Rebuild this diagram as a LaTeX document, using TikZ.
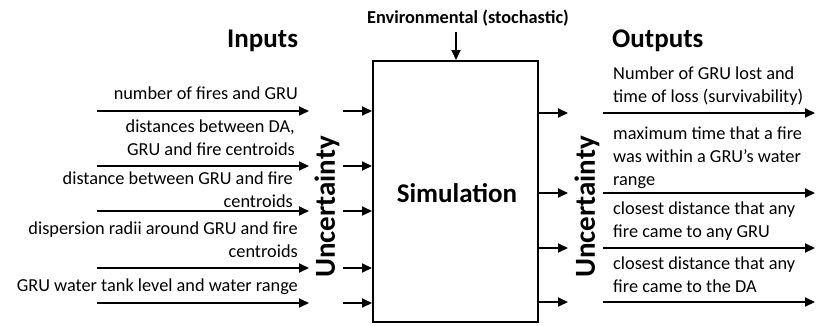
\documentclass[tikz,border=0pt]{standalone}
\usepackage{fontspec}
\setmainfont{Carlito}
\usetikzlibrary{arrows.meta}
\begin{document}
\begin{tikzpicture}[x=1pt,y=-1pt,
  arr/.style={line width=2pt,-{Triangle[length=10pt,width=9pt]}},
  lbl/.style={inner sep=0pt,font=\fontsize{18.3}{22.8}\selectfont},
  lblL/.style={lbl,align=right,anchor=base east},
  lblR/.style={lbl,align=left,anchor=base west},
  big/.style={inner sep=0pt,font=\fontsize{27}{32}\selectfont\bfseries},
  unc/.style={inner sep=0pt,rotate=90,font=\fontsize{29}{34}\selectfont\bfseries},
  simbox/.style={draw,line width=2pt,minimum width=165pt,minimum height=261pt,inner sep=0pt}]
\useasboundingbox (0,0) rectangle (817,325);
% central box
\node[simbox] (sim) at (455.5,191.5) {};
\node[big] (simtxt) at (457,193) {Simulation};
% titles
\node[big,anchor=base west] (inputs) at (227,47) {Inputs};
\node[big,anchor=base west] (outputs) at (612,47) {Outputs};
\node[inner sep=0pt,anchor=base,font=\fontsize{18.3}{22}\selectfont\bfseries] (env) at (468,23) {Environmental (stochastic)};
\coordinate (envA) at (456,32);
\draw[arr] (envA) -- (envA |- sim.north);
% uncertainty labels
\node[unc] (uncL) at (327,207) {Uncertainty};
\node[unc] (uncR) at (587,207) {Uncertainty};
% input arrows
\foreach \i/\y in {1/111,2/166,3/211,4/268,5/303} {
  \coordinate (inS\i) at (97,\y);
  \coordinate (inE\i) at (309,\y);
  \coordinate (inB\i) at (343,\y);
  \draw[arr] (inS\i) -- (inE\i);
  \draw[arr] (inB\i) -- (inB\i -| sim.west);
}
% output arrows
\foreach \i/\y in {1/113,2/193,3/248,4/302} {
  \coordinate (outB\i) at (sim.east |- 0,\y);
  \coordinate (outE\i) at (568,\y);
  \coordinate (outS\i) at (603,\y);
  \coordinate (outF\i) at (815,\y);
  \draw[arr] (outB\i) -- (outE\i);
  \draw[arr] (outS\i) -- (outF\i);
}
% input texts (anchor = baseline of last line)
\node[lblL] (t1) at (298,99) {number of fires and GRU};
\node[lblL] (t2) at (295,155) {distances between DA,\\GRU and fire centroids};
\node[lblL] (t3) at (293,207) {distance between GRU and fire\\centroids};
\node[lblL] (t4) at (298,257) {dispersion radii around GRU and fire\\centroids};
\node[lblL] (t5) at (298,291) {GRU water tank level and water range};
% output texts
\node[lblR] (o1) at (613,102) {Number of GRU lost and\\time of loss (survivability)};
\node[lblR] (o2) at (613,185) {maximum time that a fire\\was within a GRU’s water\\range};
\node[lblR] (o3) at (613,237) {closest distance that any\\fire came to any GRU};
\node[lblR] (o4) at (613,292) {closest distance that any\\fire came to the DA};
\end{tikzpicture}
\end{document}
